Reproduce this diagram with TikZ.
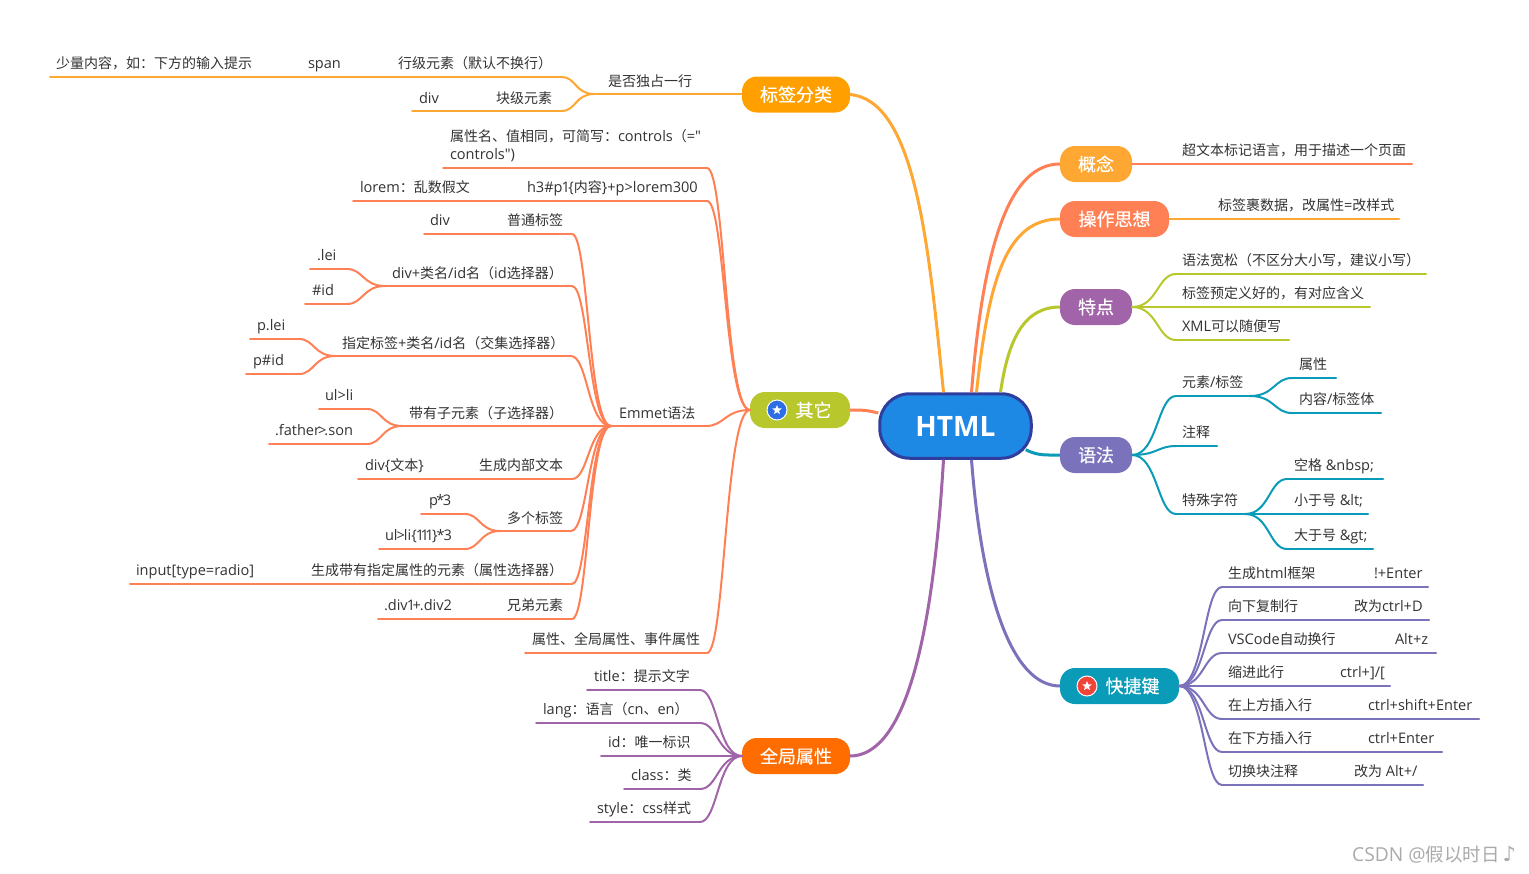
\documentclass[tikz,border=0pt]{standalone}
\usepackage{fontspec}
\setmainfont{Open Sans}[Scale=1.04,Numbers=Proportional,Ligatures=TeXOff]
\newfontfamily\cjk{Noto Sans CJK SC}
\newfontfamily\cjkm{Noto Sans CJK SC}[FakeBold=0.5]
\newfontfamily\dejavu{DejaVu Sans}
\usetikzlibrary{calc,shapes.geometric}
\chardef\cjkcls=100
\newcount\cjkcnt
\cjkcnt="3000 \loop\ifnum\cjkcnt<"303F \XeTeXcharclass\cjkcnt=\cjkcls \advance\cjkcnt 1 \repeat
\cjkcnt="4E00 \loop\ifnum\cjkcnt<"9FFF \XeTeXcharclass\cjkcnt=\cjkcls \advance\cjkcnt 1 \repeat
\cjkcnt="FF00 \loop\ifnum\cjkcnt<"FFEF \XeTeXcharclass\cjkcnt=\cjkcls \advance\cjkcnt 1 \repeat
\XeTeXinterchartoks 0 \cjkcls={\cjk}
\XeTeXinterchartoks 4095 \cjkcls={\cjk}
\XeTeXinterchartoks \cjkcls 0={\rmfamily}
\XeTeXinterchartoks \cjkcls 4095={\rmfamily}
\XeTeXinterchartokenstate=1
\definecolor{corange}{HTML}{FFA733}
\definecolor{ccoral}{HTML}{FF8055}
\definecolor{cgreen}{HTML}{B8C72C}
\definecolor{cteal}{HTML}{0A9BB8}
\definecolor{cpurple}{HTML}{7A72BB}
\definecolor{cviolet}{HTML}{A164A8}
\definecolor{ctext}{HTML}{333333}
\newcommand\dn[1]{\raisebox{-1pt}{#1}}
\tikzset{
  tp/.style={inner xsep=0pt,inner ysep=6pt,outer sep=0pt,text height=11pt,text depth=3pt,
    anchor=south west,text=ctext,font=\fontsize{14}{18}\selectfont},
  main/.style={rounded corners=15pt,minimum height=36pt,inner sep=0pt,outer sep=0pt,
    text=white,font=\fontsize{18}{22}\selectfont\let\cjk\cjkm},
  ulin/.style={line width=2pt,line cap=round},
  blin/.style={line width=3pt},
  crvl/.style={to path={let \p1=(\tikztostart),\p2=(\tikztotarget) in
    .. controls ({0.58*\x1+0.42*\x2},\y1) and ({0.58*\x1+0.42*\x2},\y2) .. (\tikztotarget)}},
  crvr/.style={to path={let \p1=(\tikztostart),\p2=(\tikztotarget) in
    .. controls ({0.42*\x1+0.58*\x2},\y1) and ({0.42*\x1+0.58*\x2},\y2) .. (\tikztotarget)}},
  ico/.style={circle,draw=white,line width=1pt,minimum size=20pt,inner sep=0pt},
  icostar/.style={star,star points=5,star point ratio=2.3,fill=white,minimum size=10pt,inner sep=0pt}
}
% name, x1, x2, y, colour, left pad, text
\newcommand\tpc[7]{%
  \node[tp] (#1) at (#2,#4) {\makebox[\dimexpr#3pt-#2pt\relax][l]{\hspace*{#6pt}#7}};
  \draw[ulin,#5] (#1.south west) -- (#1.south east);}
% child (left side) joined to parent
\newcommand\lk[3]{\draw[ulin,#1] (#2.south east) to[crvl] (#3.south west);}
\begin{document}
\begin{tikzpicture}[x=1pt,y=-1pt]
\useasboundingbox[fill=white] (0,0) rectangle (1529,873);
% central and main topics
\node[rounded corners=30pt,draw={rgb,255:red,47;green,62;blue,158},line width=3pt,fill={rgb,255:red,30;green,136;blue,229},
  minimum width=151.5pt,minimum height=64.5pt,inner sep=0pt,text=white,font=\fontsize{27}{32}\selectfont\bfseries] (html) at (955.5,426) {HTML};
\node[main,fill={rgb,255:red,255;green,160;blue,0},minimum width=108pt] (tag) at (796,94.5) {\raisebox{-0.6pt}{标签分类}};
\node[main,fill=cgreen,minimum width=100pt] (other) at (800,410) {\hspace*{27pt}其它};
\node[main,fill={rgb,255:red,255;green,109;blue,0},minimum width=108pt] (glob) at (796,756) {全局属性};
\node[main,fill=corange,minimum width=72pt] (con) at (1096,164) {\raisebox{-0.8pt}{概念}};
\node[main,fill=ccoral,minimum width=109pt] (op) at (1114.5,219) {\raisebox{-0.6pt}{操作思想}};
\node[main,fill=cviolet,minimum width=72pt] (feat) at (1096,307) {\raisebox{-0.8pt}{特点}};
\node[main,fill=cpurple,minimum width=72pt] (syn) at (1096,455) {语法};
\node[main,fill=cteal,minimum width=119pt] (key) at (1119.5,686) {\hspace*{26pt}快捷键};
\node[ico,fill={rgb,255:red,45;green,110;blue,230}] (ic1) at (777,410) {};
\node[icostar] (st1) at (777,410) {};
\node[ico,fill={rgb,255:red,240;green,68;blue,56}] (ic2) at (1087,686) {};
\node[icostar] (st2) at (1087,686) {};
% main branches
\draw[blin,corange] ([xshift=-12pt]html.north) .. controls +(-15,-150) and +(65,6) .. (tag.east);
\draw[blin,ccoral] ([xshift=16pt]html.north) .. controls +(12,-150) and +(-50,0) .. (con.west);
\draw[blin,corange] ([xshift=21pt]html.north) .. controls +(12,-110) and +(-55,0) .. (op.west);
\draw[blin,cgreen] ([xshift=45pt]html.north) .. controls +(8,-55) and +(-35,0) .. (feat.west);
\draw[blin,cteal] ([xshift=-7pt,yshift=10pt]html.south east) .. controls +(12,6) and +(-15,0) .. (syn.west);
\draw[blin,cpurple] ([xshift=16pt]html.south) .. controls +(10,130) and +(-50,0) .. (key.west);
\draw[blin,cviolet] ([xshift=-12pt]html.south) .. controls +(-12,200) and +(50,0) .. (glob.east);
\draw[blin,ccoral] ([yshift=13pt]html.west) .. controls +(-12,-3) and +(12,0) .. (other.east);
% tag group
\tpc{a1}{50}{290}{77}{corange}{6}{少量内容，如：下方的输入提示}
\tpc{a2}{290}{390}{77}{corange}{18}{span}
\tpc{a3}{390}{562}{77}{corange}{8}{行级元素（默认不换行）}
\tpc{a4}{594}{742}{94}{corange}{14}{\dn{是否独占一行}}
\tpc{a5}{470}{562}{111}{corange}{26}{\dn{块级元素}}
\tpc{a6}{412}{470}{111}{corange}{7}{\dn{div}}
\lk{corange}{a3}{a4}
\lk{corange}{a5}{a4}
% other group
\tpc{b0}{611}{706}{426}{ccoral}{8}{\dn{Emmet语法}}
\tpc{b1}{443}{707}{168}{ccoral}{7}{\rlap{\raisebox{18pt}{属性名、值相同，可简写：controls（="}}controls")}
\tpc{b2}{510}{707}{201}{ccoral}{17}{h3\#p1\{内容\}+p>lorem300}
\tpc{b3}{353}{510}{201}{ccoral}{7}{lorem：乱数假文}
\tpc{b4}{525}{707}{653}{ccoral}{7}{属性、全局属性、事件属性}
\draw[ulin,ccoral] (b1.south east) to[crvl] (other.west);
\draw[ulin,ccoral] (b2.south east) to[crvl] (other.west);
\draw[ulin,ccoral] (b0.south east) to[crvl] (other.west);
\draw[ulin,ccoral] (b4.south east) to[crvl] (other.west);
% Emmet children
\tpc{c1}{490}{572}{234}{ccoral}{17}{普通标签}
\tpc{c1b}{424}{490}{234}{ccoral}{6}{div}
\tpc{c3}{385}{572}{286}{ccoral}{7}{\dn{div+类名/id名（id选择器）}}
\tpc{c3a}{310}{347}{269}{ccoral}{7}{.lei}
\tpc{c3b}{305}{347}{304}{ccoral}{7}{\#id}
\lk{ccoral}{c3a}{c3}
\lk{ccoral}{c3b}{c3}
\tpc{c4}{335}{571}{356}{ccoral}{7}{\dn{指定标签+类名/id名（交集选择器）}}
\tpc{c4a}{250}{299}{339}{ccoral}{7}{p.lei}
\tpc{c4b}{246}{299}{374}{ccoral}{7}{p\#id}
\lk{ccoral}{c4a}{c4}
\lk{ccoral}{c4b}{c4}
\tpc{c5}{402}{570}{426}{ccoral}{7}{\dn{带有子元素（子选择器）}}
\tpc{c5a}{319}{367}{409}{ccoral}{6}{ul>li}
\tpc{c5b}{269}{367}{444}{ccoral}{6}{.father\kern-2pt>\kern-2pt.son}
\lk{ccoral}{c5a}{c5}
\lk{ccoral}{c5b}{c5}
\tpc{c6}{470}{572}{479}{ccoral}{9}{生成内部文本}
\tpc{c6b}{358}{470}{479}{ccoral}{7}{div\{文本\}}
\tpc{c7}{500}{571}{531}{ccoral}{7}{\dn{多个标签}}
\tpc{c7a}{421}{465}{514}{ccoral}{8}{p\kern-1.5pt*\kern-1.5pt 3}
\tpc{c7b}{379}{465}{549}{ccoral}{6}{ul\kern-1pt>\kern-1pt li\{1\kern-1pt 1\kern-1pt 1\}\kern-1pt*\kern-1pt 3}
\lk{ccoral}{c7a}{c7}
\lk{ccoral}{c7b}{c7}
\tpc{c8}{290}{572}{584}{ccoral}{21}{生成带有指定属性的元素（属性选择器）}
\tpc{c8b}{130}{290}{584}{ccoral}{6}{input[type=radio]}
\tpc{c9}{490}{572}{619}{ccoral}{17}{兄弟元素}
\tpc{c9b}{378}{490}{619}{ccoral}{6}{.div1\kern-1pt+\kern-1pt.div2}
\lk{ccoral}{c1}{b0}
\lk{ccoral}{c3}{b0}
\lk{ccoral}{c4}{b0}
\lk{ccoral}{c5}{b0}
\lk{ccoral}{c6}{b0}
\lk{ccoral}{c7}{b0}
\lk{ccoral}{c8}{b0}
\lk{ccoral}{c9}{b0}
% global attributes
\tpc{d1}{587}{700}{690}{cviolet}{7}{title：提示文字}
\tpc{d2}{536}{700}{723}{cviolet}{7}{lang：语言（cn、en）}
\tpc{d3}{601}{700}{756}{cviolet}{7}{id：唯一标识}
\tpc{d4}{624}{700}{789}{cviolet}{7}{class：类}
\tpc{d5}{590}{700}{822}{cviolet}{7}{style：css样式}
\draw[ulin,cviolet] (d1.south east) to[crvl] (glob.west);
\draw[ulin,cviolet] (d2.south east) to[crvl] (glob.west);
\draw[ulin,cviolet] (d3.south east) to[crvl] (glob.west);
\draw[ulin,cviolet] (d4.south east) to[crvl] (glob.west);
\draw[ulin,cviolet] (d5.south east) to[crvl] (glob.west);
% right side single topics
\tpc{e1}{1132}{1412}{164}{ccoral}{50}{超文本标记语言，用于描述一个页面}
\tpc{e2}{1169}{1399}{219}{corange}{49}{\raisebox{-0.6pt}{标签裹数据，改属性=改样式}}
% features
\tpc{f1}{1176}{1426}{274}{cgreen}{6}{语法宽松（不区分大小写，建议小写）}
\tpc{f2}{1176}{1370}{307}{cgreen}{6}{标签预定义好的，有对应含义}
\tpc{f3}{1176}{1289}{340}{cgreen}{6}{XML可以随便写}
\draw[ulin,cgreen] (feat.east) to[crvr] (f1.south west);
\draw[ulin,cgreen] (feat.east) to[crvr] (f2.south west);
\draw[ulin,cgreen] (feat.east) to[crvr] (f3.south west);
% syntax
\tpc{g1}{1176}{1250}{396}{cteal}{6}{元素/标签}
\tpc{g1a}{1292}{1336}{378}{cteal}{7}{属性}
\tpc{g1b}{1292}{1381}{413}{cteal}{7}{内容/标签体}
\tpc{g2}{1176}{1217}{446}{cteal}{6}{注释}
\tpc{g3}{1176}{1245}{514}{cteal}{6}{特殊字符}
\tpc{g3a}{1287}{1383}{479}{cteal}{7}{空格 \&nbsp;}
\tpc{g3b}{1287}{1368}{514}{cteal}{7}{小于号 \&lt;}
\tpc{g3c}{1287}{1373}{549}{cteal}{7}{大于号 \&gt;}
\draw[ulin,cteal] (syn.east) to[crvr] (g1.south west);
\draw[ulin,cteal] (syn.east) to[crvr] (g2.south west);
\draw[ulin,cteal] (syn.east) to[crvr] (g3.south west);
\draw[ulin,cteal] (g1.south east) to[crvr] (g1a.south west);
\draw[ulin,cteal] (g1.south east) to[crvr] (g1b.south west);
\draw[ulin,cteal] (g3.south east) to[crvr] (g3a.south west);
\draw[ulin,cteal] (g3.south east) to[crvr] (g3b.south west);
\draw[ulin,cteal] (g3.south east) to[crvr] (g3c.south west);
% shortcuts
\tpc{h1}{1222}{1324}{587}{cpurple}{6}{生成html框架}
\tpc{h1b}{1324}{1428}{587}{cpurple}{50}{!+Enter}
\tpc{h2}{1222}{1304}{620}{cpurple}{6}{向下复制行}
\tpc{h2b}{1304}{1429}{620}{cpurple}{50}{改为ctrl+D}
\tpc{h3}{1222}{1345}{653}{cpurple}{6}{VSCode自动换行}
\tpc{h3b}{1345}{1436}{653}{cpurple}{50}{Alt+z}
\tpc{h4}{1222}{1290}{686}{cpurple}{6}{缩进此行}
\tpc{h4b}{1290}{1390}{686}{cpurple}{50}{ctrl+]/[}
\tpc{h5}{1222}{1318}{719}{cpurple}{6}{在上方插入行}
\tpc{h5b}{1318}{1479}{719}{cpurple}{50}{ctrl+shift+Enter}
\tpc{h6}{1222}{1318}{752}{cpurple}{6}{在下方插入行}
\tpc{h6b}{1318}{1442}{752}{cpurple}{50}{ctrl+Enter}
\tpc{h7}{1222}{1304}{785}{cpurple}{6}{切换块注释}
\tpc{h7b}{1304}{1423}{785}{cpurple}{50}{改为 Alt+/}
\draw[ulin,cpurple] (key.east) to[crvr] (h1.south west);
\draw[ulin,cpurple] (key.east) to[crvr] (h2.south west);
\draw[ulin,cpurple] (key.east) to[crvr] (h3.south west);
\draw[ulin,cpurple] (key.east) to[crvr] (h4.south west);
\draw[ulin,cpurple] (key.east) to[crvr] (h5.south west);
\draw[ulin,cpurple] (key.east) to[crvr] (h6.south west);
\draw[ulin,cpurple] (key.east) to[crvr] (h7.south west);
% watermark
\node[anchor=west,inner sep=0pt,text={rgb,255:red,170;green,170;blue,170},font=\fontsize{18.5}{22}\selectfont] (wm) at (1352,855) {CSDN @假以时日 \hspace{-2pt}{\dejavu\fontsize{21}{22}\selectfont ♪}};
\end{tikzpicture}
\end{document}
